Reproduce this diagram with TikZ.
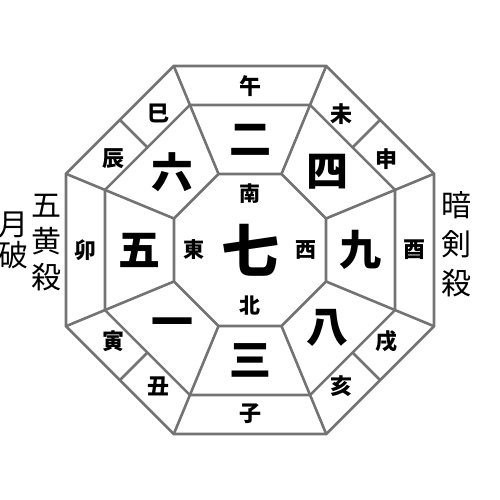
\documentclass[tikz,border=0pt]{standalone}
\usepackage{fontspec}
\setmainfont{Noto Sans CJK JP}
\begin{document}
\begin{tikzpicture}[x=1pt,y=1pt,
  rim/.style={draw=black!55, line width=2.6pt, line join=miter},
  shi/.style={font=\fontsize{22}{22}\selectfont\bfseries},
  sei/.style={font=\fontsize{42}{42}\selectfont\bfseries},
  hou/.style={font=\fontsize{21}{21}\selectfont\bfseries},
  yoko/.style={font=\fontsize{30}{#1}\selectfont, align=center}]

\newcommand\Ro{199.2pt}; %% outer ring
\newcommand\Rm{157pt};   %% middle ring
\newcommand\Ri{82.3pt};  %% inner ring

\useasboundingbox (-250,-250) rectangle (250,250);

%% three octagons
\foreach \r in {\Ri,\Rm,\Ro}
  \draw[rim] (22.5:\r) -- (67.5:\r) -- (112.5:\r) -- (157.5:\r)
    -- (202.5:\r) -- (247.5:\r) -- (292.5:\r) -- (337.5:\r) -- cycle;

%% spokes and splits
\foreach \a in {22.5,67.5,...,337.5}
  \draw[rim] (\a:\Ri) -- (\a:\Ro);
\foreach \a in {45,135,225,315}
  \draw[rim] (\a:145pt) -- (\a:184pt);

%% twelve branches
\foreach \a/\t [count=\i] in {90/午,56.25/未,33.75/申,0/酉,-33.75/戌,-56.25/亥,
    -90/子,-123.75/丑,-146.25/寅,180/卯,146.25/辰,123.75/巳}
  \node[shi] (shi-\i) at (\a:164pt) {\t};

%% nine stars
\foreach \a/\t [count=\i] in {90/二,45/四,0/九,-45/八,-90/三,-135/一,180/五,135/六}
  \node[sei] (sei-\i) at (\a:110pt) {\t};
\node[font=\fontsize{58}{58}\selectfont\bfseries] (chuo) at (0,0) {七};

%% directions
\foreach \a/\t [count=\i] in {90/南,0/西,-90/北,180/東}
  \node[hou] (hou-\i) at (\a:56pt) {\t};

%% side marks
\node[yoko=36] (goou) at (-203,7) {五\\黄\\殺};
\node[yoko=31] (geppa) at (-236,10) {月\\破};
\node[yoko=39] (anken) at (206,6) {暗\\剣\\殺};

\end{tikzpicture}
\end{document}
